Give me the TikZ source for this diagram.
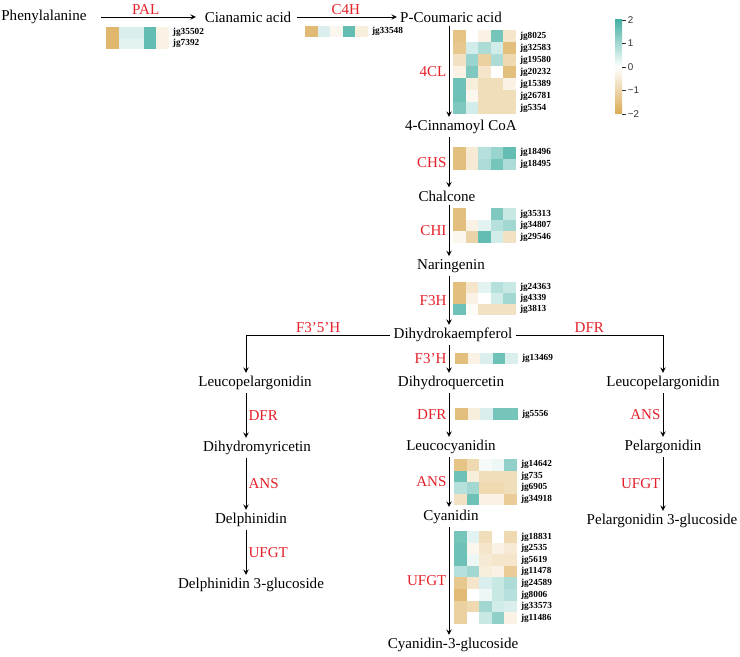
\documentclass[tikz,border=0pt]{standalone}
\usepackage{fontspec}
\setmainfont{Liberation Serif}
\newfontfamily\legendfont{Liberation Sans}
\usepackage{tikz}
\usetikzlibrary{arrows}
\definecolor{enzred}{RGB}{228,32,42}
\definecolor{hi}{RGB}{72,177,165}
\definecolor{lo}{RGB}{218,170,82}

\newcommand{\heatmap}[4]{%
 \foreach \gname/\va/\vb/\vc/\vd/\ve [count=\row] in {#4}{
  \foreach \v [count=\col] in {\va,\vb,\vc,\vd,\ve}{
   \pgfmathsetmacro{\hp}{min(100,abs(\v)*50)}
   \ifdim\v pt>0pt \fill[hi!\hp!white] ({#1+(\col-1)*12.5},{#2+(\row-1)*#3}) rectangle ++(12.6,#3+0.1);
   \else \fill[lo!\hp!white] ({#1+(\col-1)*12.5},{#2+(\row-1)*#3}) rectangle ++(12.6,#3+0.1);\fi
  }
  \node[gene] (\gname) at ({#1+66.5},{#2+(\row-0.5)*#3}) {\gname};
 }}

\begin{document}
\begin{tikzpicture}[x=0.025cm,y=-0.025cm,line width=0.7pt,>=stealth,
  every node/.style={font=\fontsize{10.7}{12}\selectfont,inner sep=2pt},
  enz/.style={text=enzred,inner sep=1.5pt},
  gene/.style={font=\fontsize{6.6}{7}\selectfont\bfseries,anchor=west,inner sep=0pt},
  legtxt/.style={font=\legendfont\fontsize{7}{8}\selectfont,text=black!80,anchor=west,inner sep=1pt}]
 \useasboundingbox (0,0) rectangle (740,656);

 \draw (44,17) node (phe) {Phenylalanine};
 \draw (248,17) node (cin) {Cianamic acid};
 \draw (451,17) node (pcou) {P-Coumaric acid};
 \draw (461,127) node (coa) {4-Cinnamoyl CoA};
 \draw (447,196) node (chal) {Chalcone};
 \draw (451,266) node (nar) {Naringenin};
 \draw (453,335) node (dhk) {Dihydrokaempferol};
 \draw (451,383) node (dhq) {Dihydroquercetin};
 \draw (451,447) node (lcy) {Leucocyanidin};
 \draw (451,517) node (cya) {Cyanidin};
 \draw (453,645) node (cyag) {Cyanidin-3-glucoside};
 \draw (255,383) node (lpl) {Leucopelargonidin};
 \draw (257,448) node (dhm) {Dihydromyricetin};
 \draw (251,520) node (del) {Delphinidin};
 \draw (251,585) node (delg) {Delphinidin 3-glucoside};
 \draw (663,383) node (lpr) {Leucopelargonidin};
 \draw (663,447) node (pel) {Pelargonidin};
 \draw (662,521) node (pelg) {Pelargonidin 3-glucoside};

 \coordinate (mid) at (449,0);
 \coordinate (left) at (246,0);
 \coordinate (right) at (663,0);

 \path[->] (phe) edge[shorten <=8pt,shorten >=4pt] node[enz,above]{PAL} (cin);
 \path[->] (cin) edge[shorten <=2pt] node[enz,above]{C4H} (pcou);
 \path[->] (pcou.south -| mid) edge node[enz,left]{4CL} (coa.north -| mid);
 \path[->] (coa.south -| mid) edge node[enz,left]{CHS} (chal.north -| mid);
 \path[->] (chal.south -| mid) edge node[enz,left]{CHI} (nar.north -| mid);
 \path[->] (nar.south -| mid) edge node[enz,left]{F3H} (dhk.north -| mid);
 \path[->] (dhk.south -| mid) edge node[enz,left]{F3'H} (dhq.north -| mid);
 \path[->] (dhq.south -| mid) edge node[enz,left]{DFR} (lcy.north -| mid);
 \path[->] (lcy.south -| mid) edge node[enz,left]{ANS} (cya.north -| mid);
 \path[->] (cya.south -| mid) edge node[enz,left]{UFGT} (cyag.north -| mid);

 \draw[->] (dhk.west) -| node[enz,above,pos=0.25]{F3'5'H} (lpl.north -| left);
 \draw[->] (dhk.east) -| node[enz,above,pos=0.25]{DFR} (lpr.north -| right);

 \path[->] (lpl.south -| left) edge node[enz,right]{DFR} (dhm.north -| left);
 \path[->] (dhm.south -| left) edge node[enz,right]{ANS} (del.north -| left);
 \path[->] (del.south -| left) edge node[enz,right]{UFGT} (delg.north -| left);
 \path[->] (lpr.south -| right) edge node[enz,left]{ANS} (pel.north -| right);
 \path[->] (pel.south -| right) edge node[enz,left]{UFGT} (pelg.north -| right);

 \heatmap{106}{27}{11}{jg35502/-1.7/0.4/0.4/1.7/-0.3, jg7392/-1.7/0.3/0.3/1.7/-0.3}
 \heatmap{305}{26}{11}{jg33548/-1.6/0.4/-0.2/1.7/-0.4}
 \heatmap{453}{30}{12}{jg8025/-1.4/0/-0.3/1.5/-0.6, jg32583/-1.3/0.5/0.9/0.5/-1.5,
   jg19580/-0.7/1.1/-1.1/0.9/-0.9, jg20232/-0.3/1.4/-0.6/0/-1.5, jg15389/1.6/-0.4/-0.8/-0.8/-0.3,
   jg26781/1.6/-0.2/-0.8/-0.8/-0.8, jg5354/1.4/0.5/-0.8/-0.8/-0.8}
 \heatmap{453}{147}{11.5}{jg18496/-1.5/-0.5/0.8/1.1/1.7, jg18495/-1.5/-0.5/0.9/1.5/0.9}
 \heatmap{453}{208}{11.7}{jg35313/-1.5/0/0/1.4/0.6, jg34807/-1.5/-0.3/0.3/0.8/1.0,
   jg29546/-0.2/-1.0/1.7/0.5/-0.7}
 \heatmap{453}{282}{11}{jg24363/-1.5/-0.6/0.3/0.8/0.6, jg4339/-1.5/-0.3/0/0.5/1.0,
   jg3813/1.6/-0.1/-0.7/-0.7/-0.7}
 \heatmap{455}{353}{10.5}{jg13469/-1.5/-0.3/0.4/1.6/0.4}
 \heatmap{455}{408}{12}{jg5556/-1.5/-0.4/0.4/1.5/1.5}
 \heatmap{454}{459}{11.5}{jg14642/-1.4/-0.9/0.1/0.2/1.2, jg735/1.6/-0.4/-0.8/-0.8/-0.8,
   jg6905/0.8/1.0/-0.9/-0.9/-0.8, jg34918/-0.7/1.6/-0.3/-0.3/-1.2}
 \heatmap{454}{531}{11.6}{jg18831/1.5/0.3/-0.8/0/-0.9, jg2535/1.6/-0.2/-0.6/-0.3/-0.5,
   jg5619/1.6/0.2/-0.5/-0.6/-0.6, jg11478/0.8/1.0/-0.4/-0.3/-1.2, jg24589/-1.3/-0.6/0.4/0.6/0.9,
   jg8006/-1.6/0/0.2/0.6/0.8, jg33573/-1.1/-0.9/1.0/0.5/0.4, jg11486/-1.1/0/0.6/1.2/-0.3}

 \shade[top color=hi,bottom color=white] (615,20) rectangle (622,67.2);
 \shade[top color=white,bottom color=lo] (615,67) rectangle (622,114);
 \foreach \t/\y [count=\i] in {2/20,1/43.5,0/67,−1/90.5,−2/114}
   \draw[black!80,line width=0.5pt] (622,\y) -- (626,\y) node[legtxt,right] (leg\i) {\t};
\end{tikzpicture}
\end{document}
